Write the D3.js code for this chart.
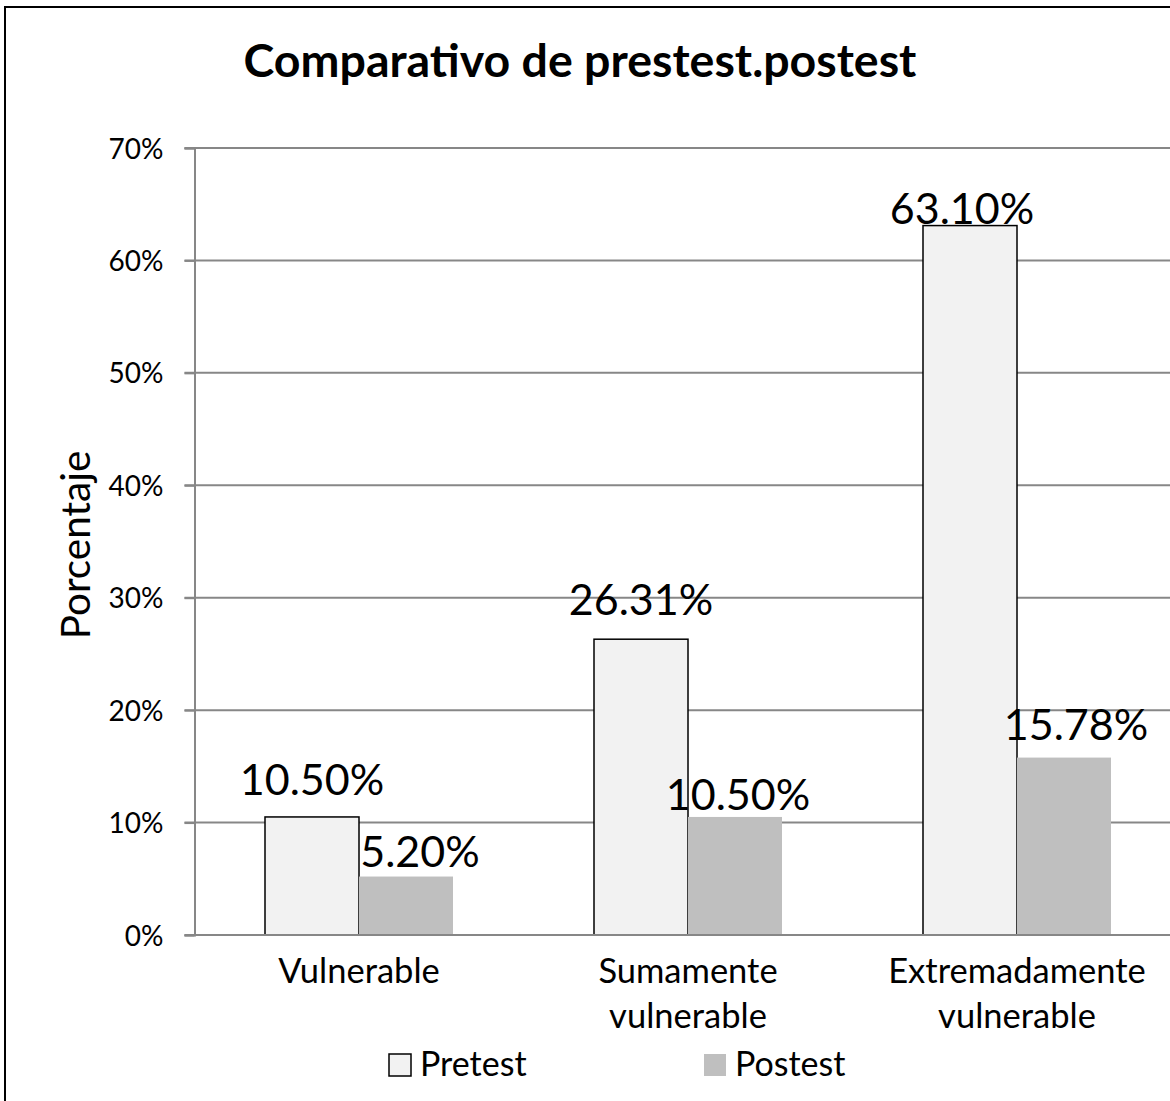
<!DOCTYPE html>
<html>
<head>
<meta charset="utf-8">
<script src="https://cdn.jsdelivr.net/npm/d3@7"></script>
<style>
  html, body { margin: 0; padding: 0; background: #fff; overflow: hidden; }
  svg { display: block; }
  text { font-family: Lato, "Open Sans", sans-serif; fill: #000; }
</style>
</head>
<body>
<svg id="chart" width="1170" height="1101"></svg>
<script>
// ---- data ----
const categories = [["Vulnerable"], ["Sumamente", "vulnerable"], ["Extremadamente", "vulnerable"]];
const categoryKeys = ["Vulnerable", "Sumamente vulnerable", "Extremadamente vulnerable"];
const seriesNames = ["Pretest", "Postest"];
const pretest = [10.50, 26.31, 63.10];
const postest = [5.20, 10.50, 15.78];
const pretestLabels = ["10.50%", "26.31%", "63.10%"];
const postestLabels = ["5.20%", "10.50%", "15.78%"];
const yTicks = [0, 10, 20, 30, 40, 50, 60, 70];
const chartTitle = "Comparativo de prestest.postest";
const yTitle = "Porcentaje";

// manual label placement (dx, dy px from bar-centre / bar-top), as in the source chart
const labelNudge = {
  Pretest: [[0, -22], [0, -24], [-8, -2]],
  Postest: [[14, -10], [3, -7], [12, -18]]
};

const colors = { Pretest: "#f2f2f2", Postest: "#bfbfbf" };

const svg = d3.select("#chart");
const W = 1170, H = 1101;
const pLeft = 194.5, pRight = 1181.5, pTop = 148, pBottom = 935;

// border
svg.append("rect").attr("x", 5).attr("y", 7).attr("width", 1250).attr("height", 1200)
  .attr("fill", "#fff").attr("stroke", "#000").attr("stroke-width", 2);

const y = d3.scaleLinear().domain([0, 70]).range([pBottom, pTop]);
const x0 = d3.scaleBand().domain(categoryKeys).range([pLeft, pRight]).padding(0);
const x1 = d3.scaleBand().domain(seriesNames).range([0, x0.bandwidth()]).paddingInner(0).paddingOuter(0.75);

// gridlines
svg.append("g").selectAll("line").data(yTicks.filter(d => d > 0)).join("line")
  .attr("x1", pLeft - 10).attr("x2", W + 20)
  .attr("y1", d => y(d)).attr("y2", d => y(d))
  .attr("stroke", "#878787").attr("stroke-width", 2);

// y axis
const yAxis = d3.axisLeft(y).tickValues(yTicks).tickSize(10).tickPadding(0).tickFormat(d => d + "%");
const gy = svg.append("g").attr("transform", `translate(${pLeft},0)`).call(yAxis);
gy.select(".domain").attr("stroke", "#878787").attr("stroke-width", 2);
gy.selectAll(".tick line").attr("stroke", "#878787").attr("stroke-width", 2);
gy.selectAll(".tick text").attr("x", -31).attr("dy", "0.36em")
  .style("font-size", "28px").style("font-family", "Lato, sans-serif").attr("fill", "#000");

// bars
const data = categoryKeys.map((k, i) => ({ key: k, values: [
  { s: "Pretest", v: pretest[i], label: pretestLabels[i], nudge: labelNudge.Pretest[i] },
  { s: "Postest", v: postest[i], label: postestLabels[i], nudge: labelNudge.Postest[i] }
]}));

const groups = svg.append("g").selectAll("g").data(data).join("g")
  .attr("transform", d => `translate(${x0(d.key)},0)`);

groups.selectAll("rect").data(d => d.values).join("rect")
  .attr("x", d => x1(d.s)).attr("width", x1.bandwidth())
  .attr("y", d => y(d.v)).attr("height", d => y(0) - y(d.v))
  .attr("fill", d => colors[d.s])
  .attr("stroke", d => d.s === "Pretest" ? "#000" : "none")
  .attr("stroke-width", 1.5);

// x axis baseline
svg.append("line").attr("x1", pLeft - 10).attr("x2", W + 20).attr("y1", pBottom).attr("y2", pBottom)
  .attr("stroke", "#878787").attr("stroke-width", 2);

// data labels
groups.selectAll("text.lbl").data(d => d.values).join("text").attr("class", "lbl")
  .attr("x", d => x1(d.s) + x1.bandwidth() / 2 + d.nudge[0])
  .attr("y", d => y(d.v) + d.nudge[1])
  .attr("text-anchor", "middle")
  .style("font-size", "43px")
  .text(d => d.label);

// category labels
const catG = svg.append("g").selectAll("text").data(categoryKeys).join("text")
  .attr("x", d => x0(d) + x0.bandwidth() / 2)
  .attr("y", 983)
  .attr("text-anchor", "middle")
  .style("font-size", "34.5px");
catG.each(function(d, i) {
  const t = d3.select(this);
  categories[i].forEach((line, j) => {
    t.append("tspan").attr("x", x0(d) + x0.bandwidth() / 2).attr("dy", j === 0 ? 0 : 45).text(line);
  });
});

// title
svg.append("text").attr("x", 580).attr("y", 77).attr("text-anchor", "middle")
  .style("font-size", "46.5px").style("font-weight", "bold").text(chartTitle);

// y title
svg.append("text").attr("transform", `translate(90,545) rotate(-90)`)
  .attr("text-anchor", "middle").style("font-size", "40.5px").text(yTitle);

// legend
const legendX = [389, 704];
const lg = svg.append("g").selectAll("g").data(seriesNames).join("g")
  .attr("transform", (d, i) => `translate(${legendX[i]},1054)`);
lg.append("rect").attr("width", 22).attr("height", 22)
  .attr("fill", d => colors[d]).attr("stroke", d => d === "Pretest" ? "#000" : "none").attr("stroke-width", 1.5);
lg.append("text").attr("x", 31).attr("y", 22).style("font-size", "34px").text(d => d);
</script>
</body>
</html>
